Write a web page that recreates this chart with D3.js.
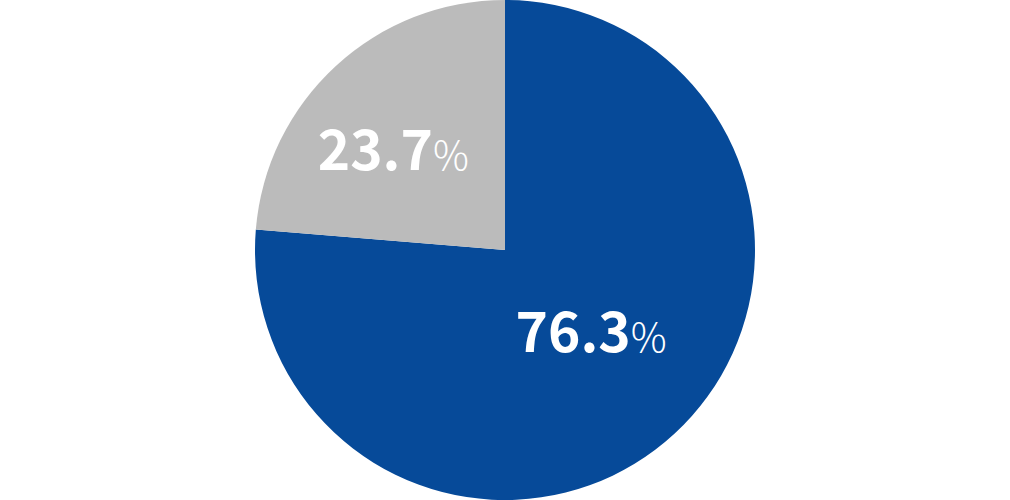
<!DOCTYPE html>
<html>
<head>
<meta charset="utf-8">
<script src="https://cdn.jsdelivr.net/npm/d3@7"></script>
<style>
  html, body { margin: 0; padding: 0; background: #fff; }
  svg { display: block; }
</style>
</head>
<body>
<svg width="1010" height="500"></svg>
<script>
// chart data
var categories = ['A', 'B']
var values = [76.3, 23.7]
var labels = ['76.3', '23.7']
var colors = ['#064a99', '#bbbbbb']

var svg = d3.select('svg')
var cx = 505, cy = 250, radius = 250

// label placement (fraction of radius, angle pulled back in degrees)
var labelR = [0.476, 0.6]
var labelShift = [3.7, 5.5]

var g = svg.append('g').attr('transform', 'translate(' + cx + ',' + cy + ')')

var pie = d3.pie().sort(null).value(function(d){ return d.value })
var arc = d3.arc().innerRadius(0).outerRadius(radius)

var data = categories.map(function(c, i){
  return { cat: c, value: values[i], label: labels[i], color: colors[i] }
})
var arcs = pie(data)

g.selectAll('path')
  .data(arcs)
  .enter().append('path')
  .attr('d', arc)
  .attr('fill', function(d){ return d.data.color })

var text = g.selectAll('text')
  .data(arcs)
  .enter().append('text')
  .attr('transform', function(d, i){
    var a = (d.startAngle + d.endAngle) / 2 - labelShift[i] * Math.PI / 180
    var r = radius * labelR[i]
    return 'translate(' + (Math.sin(a) * r) + ',' + (-Math.cos(a) * r) + ')'
  })
  .attr('text-anchor', 'middle')
  .attr('dy', 20)
  .attr('fill', '#fff')
  .attr('font-family', '"Noto Sans CJK JP", "Noto Sans", sans-serif')

text.append('tspan')
  .attr('font-size', 55)
  .attr('font-weight', 700)
  .text(function(d){ return d.data.label })
text.append('tspan')
  .attr('font-size', 40)
  .attr('font-weight', 300)
  .attr('dx', 0)
  .text('%')
</script>
</body>
</html>
